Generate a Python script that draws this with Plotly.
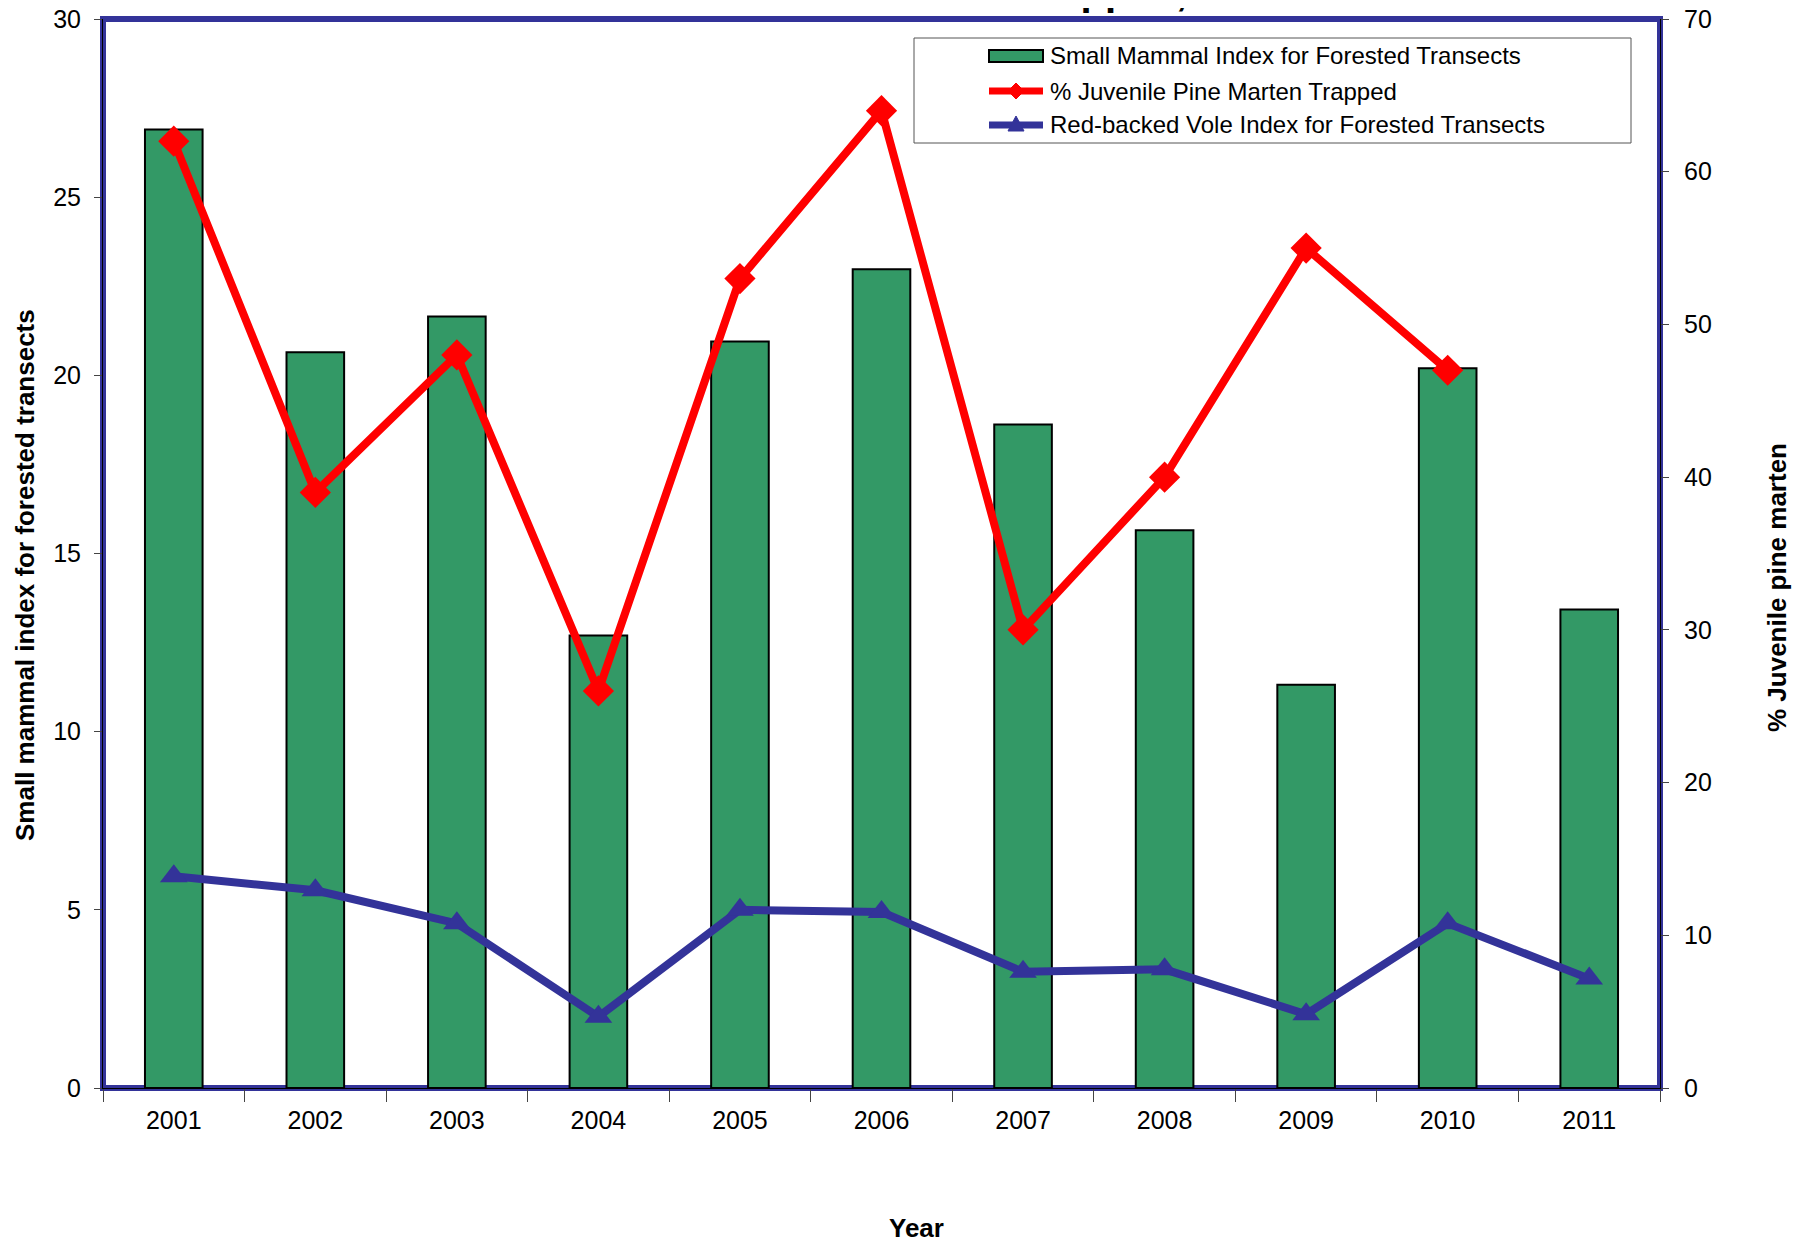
import plotly.graph_objects as go

years = ["2001", "2002", "2003", "2004", "2005", "2006", "2007", "2008", "2009", "2010", "2011"]
small_mammal_index = [26.9, 20.65, 21.65, 12.7, 20.95, 22.98, 18.62, 15.65, 11.32, 20.2, 13.43]
juvenile_marten_pct = [62.0, 39.0, 48.0, 26.0, 53.0, 64.0, 30.0, 40.0, 55.0, 47.0, None]
vole_index = [5.94, 5.55, 4.62, 2.0, 5.0, 4.94, 3.26, 3.33, 2.07, 4.62, 3.07]

names = ["Small Mammal Index for Forested Transects",
         "% Juvenile Pine Marten Trapped",
         "Red-backed Vole Index for Forested Transects"]

W, H = 1804, 1242
# figure-pixel coordinates (page has an 8px body margin)
L, R, T, B = 95, 1652, 11, 1080
FONT = "Liberation Sans, Arial, sans-serif"
BORDER = "#333399"
GREEN = "#339966"
RED = "#FF0000"

fig = go.Figure()
fig.add_trace(go.Bar(
    x=years, y=small_mammal_index, name=names[0],
    marker=dict(color=GREEN, line=dict(color="black", width=2)),
    yaxis="y", showlegend=False,
))
fig.add_trace(go.Scatter(
    x=years, y=juvenile_marten_pct, name=names[1],
    mode="lines+markers", line=dict(color=RED, width=8),
    marker=dict(symbol="diamond", size=24, color=RED),
    yaxis="y2", showlegend=False,
))
fig.add_trace(go.Scatter(
    x=years, y=vole_index, name=names[2],
    mode="lines+markers", line=dict(color=BORDER, width=8),
    marker=dict(symbol="triangle-up", size=24, color=BORDER),
    yaxis="y", showlegend=False,
))

pw, ph = R - L, B - T

def px_x(x):
    return (x - L) / pw

def px_y(y):
    return (B - y) / ph

fig.update_layout(
    width=W, height=H,
    margin=dict(l=L, r=W - R, t=T, b=H - B, pad=0, autoexpand=False),
    paper_bgcolor="white", plot_bgcolor="white",
    font=dict(family=FONT, size=25, color="black"),
    bargap=0.593,
    showlegend=False,
    xaxis=dict(
        type="category", range=[-0.5, 10.5], showgrid=False, zeroline=False,
        ticks="outside", tickson="boundaries", ticklen=13, tickcolor="#444",
        showline=True, linecolor="black", linewidth=1, automargin=False,
        tickfont=dict(size=25), ticklabelstandoff=10, ticklabeloverflow="allow",
    ),
    yaxis=dict(
        range=[0, 30], dtick=5, showgrid=False, zeroline=False,
        ticks="outside", ticklen=8, tickcolor="#444",
        showline=True, linecolor="black", linewidth=1, automargin=False,
        tickfont=dict(size=25), ticklabelstandoff=8, ticklabeloverflow="allow",
    ),
    yaxis2=dict(
        range=[0, 70], dtick=10, overlaying="y", side="right",
        showgrid=False, zeroline=False, automargin=False,
        ticks="outside", ticklen=8, tickcolor="#444",
        showline=True, linecolor="black", linewidth=1,
        tickfont=dict(size=25), ticklabelstandoff=10, ticklabeloverflow="allow",
    ),
)

# thick blue plot-area frame
fig.add_shape(type="rect", xref="paper", yref="paper", x0=0, x1=1, y0=0, y1=1,
              line=dict(color=BORDER, width=6), fillcolor="rgba(0,0,0,0)", layer="below")

# ---- custom legend (Excel style) ----
lx0, lx1, ly0, ly1 = 906, 1623, 30, 135
fig.add_shape(type="rect", xref="paper", yref="paper",
              x0=px_x(lx0), x1=px_x(lx1), y0=px_y(ly1), y1=px_y(ly0),
              line=dict(color="#555555", width=1), fillcolor="white", layer="above")
rows = [48, 83, 117]
sx0, sx1, tx = 981, 1035, 1040
# bar symbol
fig.add_shape(type="rect", xref="paper", yref="paper",
              x0=px_x(sx0), x1=px_x(sx1), y0=px_y(rows[0] + 6), y1=px_y(rows[0] - 6),
              line=dict(color="black", width=2), fillcolor=GREEN, layer="above")
# line symbols
for cy, col in [(rows[1], RED), (rows[2], BORDER)]:
    fig.add_shape(type="line", xref="paper", yref="paper",
                  x0=px_x(sx0), x1=px_x(sx1), y0=px_y(cy), y1=px_y(cy),
                  line=dict(color=col, width=7), layer="above")
cx = (sx0 + sx1) / 2
d = 8
cy = rows[1]
diamond = "M {} {} L {} {} L {} {} L {} {} Z".format(
    px_x(cx), px_y(cy - d), px_x(cx + d), px_y(cy),
    px_x(cx), px_y(cy + d), px_x(cx - d), px_y(cy))
fig.add_shape(type="path", xref="paper", yref="paper", path=diamond,
              fillcolor=RED, line=dict(color=RED, width=1), layer="above")
cy = rows[2]
tri = "M {} {} L {} {} L {} {} Z".format(
    px_x(cx), px_y(cy - 9), px_x(cx + 8), px_y(cy + 6), px_x(cx - 8), px_y(cy + 6))
fig.add_shape(type="path", xref="paper", yref="paper", path=tri,
              fillcolor=BORDER, line=dict(color=BORDER, width=1), layer="above")
for cy, name in zip(rows, names):
    fig.add_annotation(text=name, xref="paper", yref="paper",
                       x=px_x(tx), y=px_y(cy), xanchor="left", yanchor="middle",
                       showarrow=False, font=dict(size=24))

# axis titles
fig.add_annotation(text="<b>Small mammal index for forested transects</b>",
                   xref="paper", yref="paper", x=px_x(17), y=px_y(567),
                   xanchor="center", yanchor="middle",
                   textangle=-90, showarrow=False, font=dict(size=26))
fig.add_annotation(text="<b>% Juvenile pine marten</b>",
                   xref="paper", yref="paper", x=px_x(1769), y=px_y(580),
                   xanchor="center", yanchor="middle",
                   textangle=-90, showarrow=False, font=dict(size=26))
fig.add_annotation(text="<b>Year</b>",
                   xref="paper", yref="paper", x=px_x(909), y=px_y(1220),
                   xanchor="center", yanchor="middle",
                   showarrow=False, font=dict(size=26))
# title, mostly cut off at the top of the page (only descenders visible)
fig.add_annotation(text="<b>Small Mammal Index and % Juvenile Pine Marten Trapped,</b>",
                   xref="paper", yref="paper", x=px_x(1180), y=px_y(6),
                   xanchor="right", yanchor="bottom", showarrow=False,
                   font=dict(size=40), borderpad=0)

fig.write_html("out.html")
